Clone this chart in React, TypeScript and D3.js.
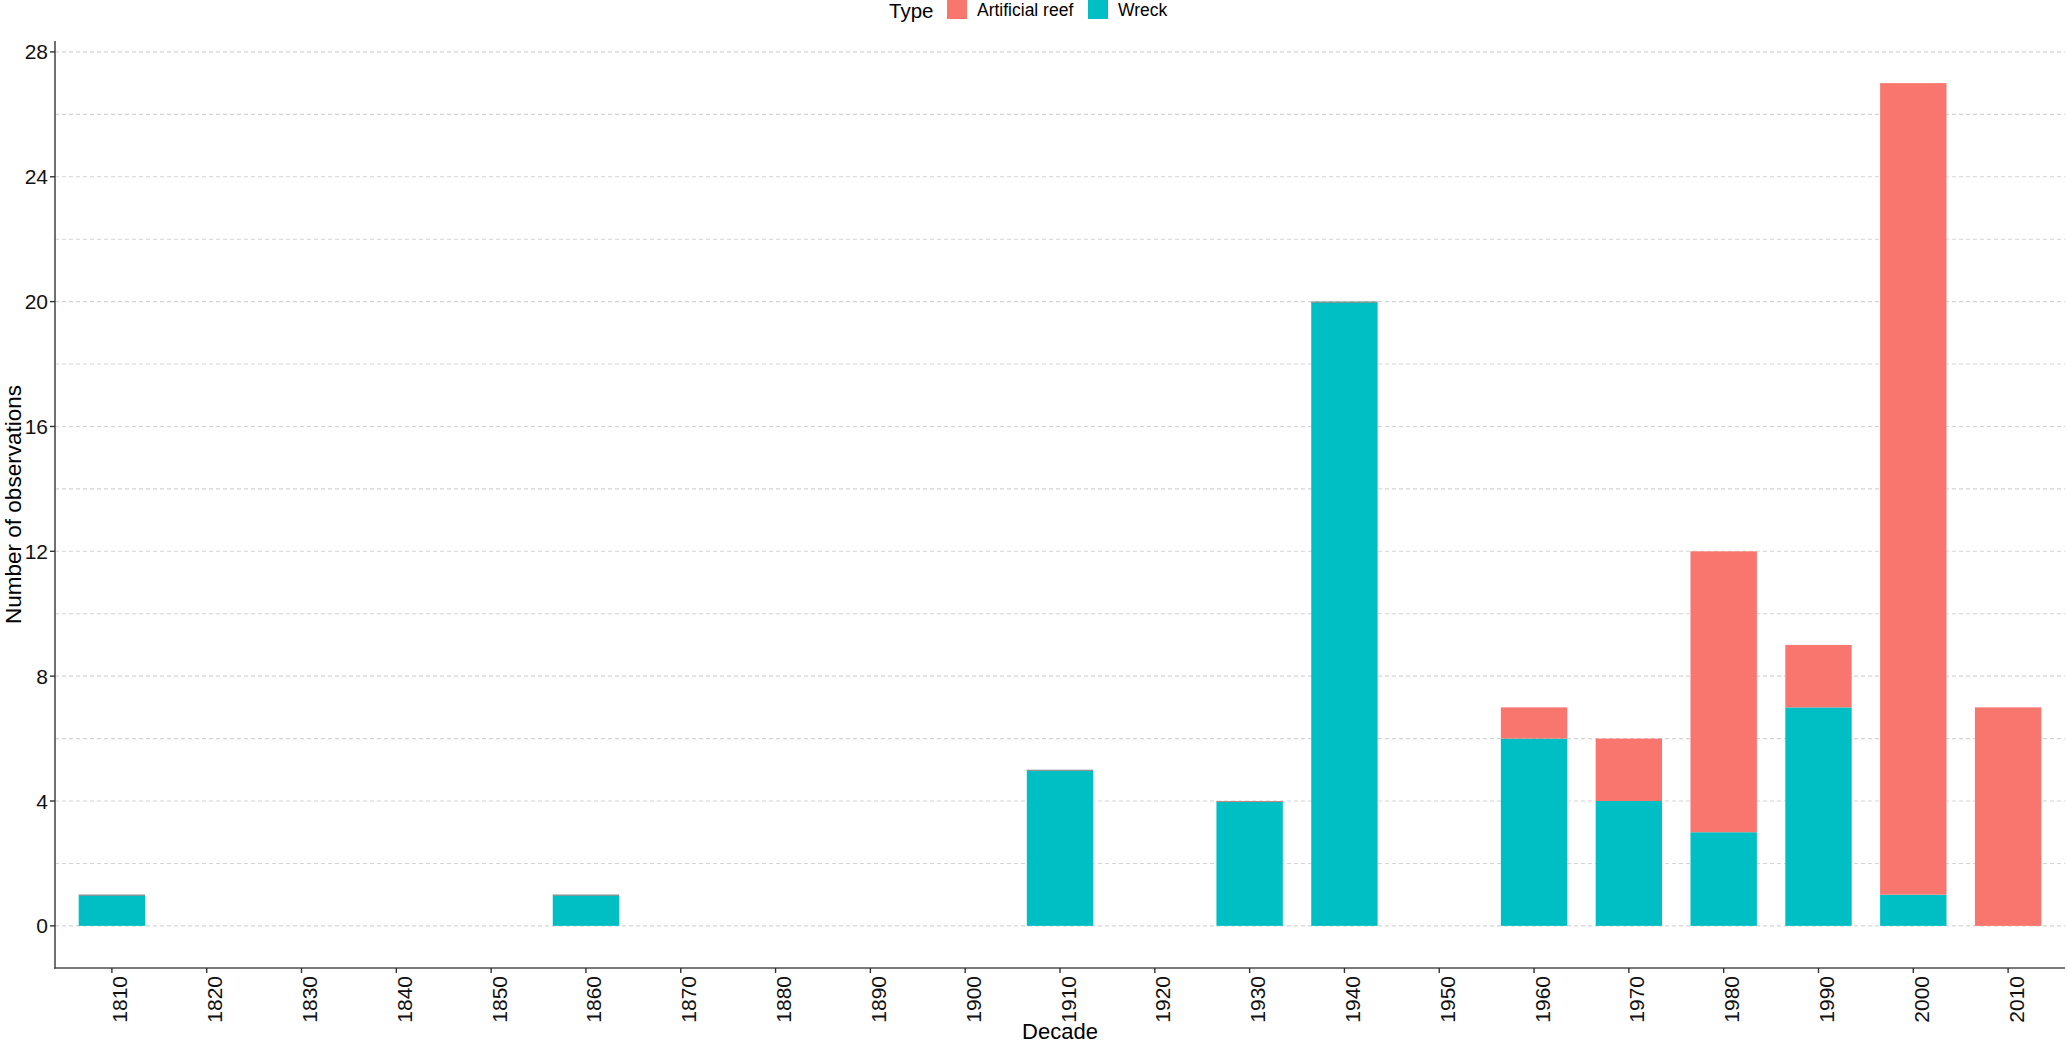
import * as d3 from 'd3'

const decades = ['1810', '1820', '1830', '1840', '1850', '1860', '1870', '1880', '1890', '1900', '1910',
  '1920', '1930', '1940', '1950', '1960', '1970', '1980', '1990', '2000', '2010']

// null = no row for that decade, 0 = row present with zero count
const wreck = [1, null, null, null, null, 1, null, null, null, null, 5,
  null, 4, 20, null, 6, 4, 3, 7, 1, null]
const artificialReef = [0, null, null, null, null, 0, null, null, null, null, 0,
  null, 0, 0, null, 1, 2, 9, 2, 26, 7]

const yTicks = [0, 4, 8, 12, 16, 20, 24, 28]
const yMinor = [2, 6, 10, 14, 18, 22, 26]

const types = ['Artificial reef', 'Wreck']
const colors = ['#F8766D', '#00BFC4']

const W = 2067
const H = 1044
const plot = { left: 55, right: 2065, top: 41, bottom: 968 }
const font = '"Liberation Sans", Arial, Helvetica, sans-serif'

export default function App() {
  const x = d3.scalePoint<string>().domain(decades).range([plot.left, plot.right]).padding(0.6)
  const y = d3.scaleLinear().domain([-1.35, 28.35]).range([plot.bottom, plot.top])
  const bw = x.step() * 0.7

  const bars: JSX.Element[] = []
  decades.forEach((d, i) => {
    const cx = x(d)!
    const w = wreck[i] ?? 0
    const a = artificialReef[i]
    if (wreck[i] != null && w > 0) {
      bars.push(
        <rect key={'w' + d} x={cx - bw / 2} y={y(w)} width={bw} height={y(0) - y(w)} fill={colors[1]} />
      )
    }
    if (a != null) {
      if (a > 0) {
        bars.push(
          <rect key={'a' + d} x={cx - bw / 2} y={y(w + a)} width={bw} height={y(w) - y(w + a)} fill={colors[0]} />
        )
      } else {
        // zero-height segment still shows as a hairline on top of the bar
        bars.push(
          <line key={'a' + d} x1={cx - bw / 2} x2={cx + bw / 2} y1={y(w) + 0.5} y2={y(w) + 0.5}
            stroke={colors[0]} strokeWidth={1} opacity={0.8} />
        )
      }
    }
  })

  return (
    <div style={{ position: 'absolute', left: 0, top: 0 }}>
      <svg width={W} height={H} style={{ display: 'block', background: '#fff' }} fontFamily={font}>
        {/* grid */}
        {[...yMinor, ...yTicks].map(t => (
          <line key={'g' + t} x1={plot.left} x2={plot.right} y1={y(t)} y2={y(t)}
            stroke="#d4d4d4" strokeWidth={1.1} strokeDasharray="4,3" />
        ))}

        {bars}

        {/* axes */}
        <line x1={plot.left} x2={plot.left} y1={plot.top} y2={plot.bottom + 0.8} stroke="#4d4d4d" strokeWidth={1.6} />
        <line x1={plot.left - 0.8} x2={plot.right} y1={plot.bottom} y2={plot.bottom} stroke="#4d4d4d" strokeWidth={1.6} />

        {yTicks.map(t => (
          <g key={'yt' + t}>
            <line x1={plot.left - 5} x2={plot.left} y1={y(t)} y2={y(t)} stroke="#333" strokeWidth={1.4} />
            <text x={plot.left - 7} y={y(t) + 7.5} textAnchor="end" fontSize={21} fill="#111">{t}</text>
          </g>
        ))}

        {decades.map(d => (
          <g key={'xt' + d}>
            <line x1={x(d)!} x2={x(d)!} y1={plot.bottom} y2={plot.bottom + 5} stroke="#333" strokeWidth={1.4} />
            <text transform={`translate(${x(d)! + 15.5},${plot.bottom + 8}) rotate(-90)`} textAnchor="end"
              fontSize={21} fill="#111">{d}</text>
          </g>
        ))}

        {/* axis titles */}
        <text x={(plot.left + plot.right) / 2} y={1039} textAnchor="middle" fontSize={22} fill="#000">Decade</text>
        <text transform={`translate(21,${(plot.top + plot.bottom) / 2}) rotate(-90)`} textAnchor="middle"
          fontSize={22.5} fill="#000">Number of observations</text>

        {/* legend */}
        <text x={889} y={18} fontSize={20.5} fill="#000">Type</text>
        {types.map((t, i) => {
          const kx = [947, 1088][i]
          return (
            <g key={'lg' + t}>
              <rect x={kx} y={-1} width={20} height={20} fill={colors[i]} />
              <text x={kx + 30} y={16} fontSize={17.5} fill="#000">{t}</text>
            </g>
          )
        })}
      </svg>
    </div>
  )
}
